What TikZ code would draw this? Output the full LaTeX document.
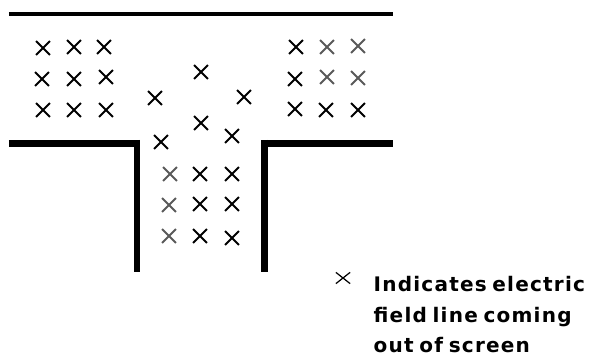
\documentclass[tikz,border=0pt]{standalone}
\usepackage{fontspec}
\setmainfont{DejaVu Sans}
\newfontfamily\legendfont[LetterSpace=6,WordSpace=0.7]{DejaVu Sans Bold}
\usetikzlibrary{shapes.misc}
\tikzset{
	fieldcross/.style={cross out,draw=black,line width=0.55pt,inner sep=0pt,minimum size=0.12cm},
	fieldfaint/.style={fieldcross,draw=black!65},
	legendline/.style={anchor=base west,inner sep=0pt,font=\fontsize{5.7}{6}\legendfont}
}
\begin{document}
\begin{tikzpicture}
	\useasboundingbox (0,0) rectangle (5.89,3.55);
	% Murs
	\draw [line width=1.15pt] (0.09,3.41) -- (3.93,3.41);
	\draw [line width=2pt] (0.09,2.115) -- (1.40,2.115);
	\draw [line width=1.6pt] (1.37,2.15) -- (1.37,0.83);
	\draw [line width=2pt] (2.61,2.115) -- (3.93,2.115);
	\draw [line width=2pt] (2.645,2.15) -- (2.645,0.83);
	% Croix
	\foreach \px/\py [count=\i] in {
		0.43/3.07,0.74/3.08,1.04/3.08,0.42/2.76,0.74/2.76,1.06/2.78,0.43/2.45,0.74/2.45,1.06/2.45,
		2.96/3.08,2.95/2.76,2.95/2.46,3.26/2.45,3.58/2.45,
		2.01/2.83,1.55/2.57,2.44/2.58,2.01/2.32,2.32/2.19,1.61/2.13,
		2.00/1.81,2.32/1.81,2.00/1.51,2.32/1.51,2.00/1.19,2.32/1.17}
		\node [fieldcross] (cross\i) at (\px,\py) {};
	\foreach \px/\py [count=\i] in {
		3.27/3.08,3.58/3.09,3.27/2.78,3.58/2.77,1.70/1.81,1.69/1.50,1.69/1.19}
		\node [fieldfaint] (faint\i) at (\px,\py) {};
	% Legende
	\node [fieldcross,line width=0.35pt,minimum width=0.13cm,minimum height=0.1cm] (legendcross) at (3.43,0.77) {};
	\node [legendline] (legendone) at (3.73,0.64) {Indicates electric};
	\node [legendline] (legendtwo) at (3.73,0.33) {field line coming};
	\node [legendline] (legendthree) at (3.73,0.03) {out of screen};
\end{tikzpicture}
\end{document}
